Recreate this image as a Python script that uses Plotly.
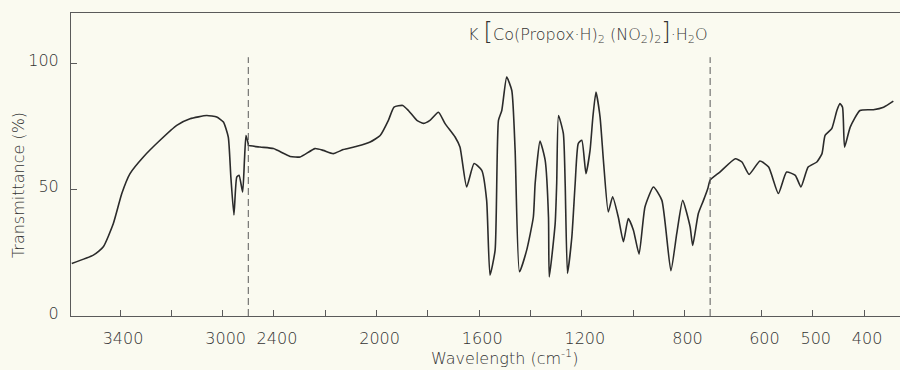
import numpy as np
import plotly.graph_objects as go

# IR spectrum of K[Co(Propox·H)2(NO2)2]·H2O, read as (wavenumber cm^-1, transmittance %)
WAVENUMBER = [
    3588, 3504, 3465, 3426, 3393, 3361, 3309, 3244, 3179, 3127, 3062, 3023,
    2997, 2978, 2968, 2956, 2945, 2936, 2922, 2915, 2909, 2900,
    2500, 2454, 2402, 2337, 2298, 2240, 2208, 2169, 2130, 2077, 2025, 1986,
    1954, 1932, 1898, 1876, 1843, 1818, 1792, 1759, 1733, 1694, 1675, 1649,
    1620, 1590, 1571, 1558, 1538, 1525, 1512, 1493, 1473, 1460, 1443, 1415,
    1389, 1382, 1363, 1343, 1330, 1327, 1304, 1298, 1291, 1272, 1265, 1256,
    1239, 1226, 1214, 1200, 1184, 1168, 1157, 1145, 1129, 1116, 1097, 1080,
    1058, 1038, 1019, 999, 977, 954, 921, 888, 853, 830, 807, 778, 768, 746,
    726, 709,
    700, 681, 651, 638, 624, 603, 586, 567, 551, 534, 523, 509, 492, 482,
    476, 463, 453, 447, 442, 438, 427, 408, 382, 362, 343,
]
TRANSMITTANCE = [
    20.8, 24.1, 27.4, 36.6, 48.5, 56.4, 63.0, 69.6, 75.5, 78.1, 79.4, 78.8,
    76.8, 70.9, 55.1, 40.0, 55.0, 55.7, 49.1, 61.7, 71.5, 68.0,
    67.6, 66.9, 66.3, 63.2, 63.0, 66.3, 65.6, 64.3, 65.9, 67.2, 68.9, 71.5,
    77.5, 82.7, 83.4, 81.4, 77.5, 76.3, 77.5, 80.7, 76.2, 70.9, 66.9, 51.1,
    60.4, 57.7, 45.8, 16.2, 26.1, 77.5, 81.4, 94.6, 89.3, 65.6, 17.5, 26.1,
    39.2, 52.5, 69.3, 61.7, 39.2, 15.5, 36.6, 52.5, 79.4, 72.2, 52.5, 16.9,
    31.3, 52.5, 68.3, 69.6, 56.4, 65.6, 78.8, 88.7, 78.8, 61.7, 41.2, 47.2,
    39.2, 29.4, 38.6, 34.0, 24.5, 43.2, 51.1, 45.8, 17.9, 32.7, 45.8, 35.3, 27.9, 40.6,
    45.8, 50.5,
    53.8, 57.0, 62.3, 61.0, 56.1, 61.4, 59.0, 48.5, 57.0, 55.7, 51.1, 59.0, 61.0, 64.3,
    71.5, 74.2, 81.4, 84.1, 82.7, 66.9, 74.8, 81.4, 81.7, 82.7, 85.1,
]

LABELED_TICKS = [3400, 3000, 2400, 2000, 1600, 1200, 800, 600, 500, 400]
UNLABELED_TICKS = [3200, 2200, 1800, 1400, 1000]
Y_TICKS = [0, 50, 100]

# The chart paper changes scale: 3600-2900 and 2500-700 share one scale,
# the region below 700 cm^-1 is expanded twofold.
HIGH_BREAK = (2900, 2500)
LOW_BREAK = 700
LOW_EXPANSION = 2.0


def to_axis(wn):
    wn = np.asarray(wn, dtype=float)
    return np.where(
        wn >= HIGH_BREAK[0],
        (HIGH_BREAK[0] - HIGH_BREAK[1]) - wn,
        np.where(wn >= LOW_BREAK, -wn, -LOW_BREAK + LOW_EXPANSION * (LOW_BREAK - wn)),
    )


PAPER = "#fafaf0"
INK = "#2b2b2b"
GRID_INK = "#5a5a5a"
TEXT_INK = "#333333"
FONT = "DejaVu Sans"
WEIGHT = 200

fig = go.Figure()
fig.add_trace(go.Scatter(
    x=to_axis(WAVENUMBER), y=TRANSMITTANCE, mode="lines",
    line=dict(color=INK, width=1.6, shape="spline", smoothing=0.5),
    hoverinfo="skip", showlegend=False,
))

# dashed markers at the two scale changes
for b in (HIGH_BREAK[1], LOW_BREAK):
    xb = float(to_axis([b])[0])
    fig.add_shape(type="line", xref="x", yref="y", x0=xb, x1=xb, y0=0, y1=102.5,
                  line=dict(color=GRID_INK, width=1, dash="7px,4px"))

fig.update_xaxes(
    range=[-3191, 40], tickmode="array",
    tickvals=to_axis(LABELED_TICKS).tolist(), ticktext=[str(v) for v in LABELED_TICKS],
    ticks="inside", ticklen=6, tickcolor=GRID_INK, tickwidth=1,
    minor=dict(tickmode="array", tickvals=to_axis(UNLABELED_TICKS).tolist(),
               ticks="inside", ticklen=6, tickcolor=GRID_INK, tickwidth=1, showgrid=False),
    showline=True, linecolor=GRID_INK, linewidth=1, mirror=True,
    showgrid=False, zeroline=False,
    tickfont=dict(family=FONT, size=16, color=TEXT_INK, weight=WEIGHT),
    ticklabelstandoff=8, ticklabelshift=3,
)
fig.update_yaxes(
    range=[0, 120], tickmode="array", tickvals=Y_TICKS,
    ticktext=[str(v) for v in Y_TICKS],
    ticks="inside", ticklen=6, tickcolor=GRID_INK, tickwidth=1,
    showline=True, linecolor=GRID_INK, linewidth=1,
    showgrid=False, zeroline=False,
    tickfont=dict(family=FONT, size=16, color=TEXT_INK, weight=WEIGHT),
    ticklabelstandoff=8, ticklabelshift=-3,
)

fig.add_annotation(
    text="Wavelength (cm<sup>-1</sup>)", xref="paper", yref="paper",
    x=0.5235, y=0, yshift=-41, xanchor="center", yanchor="middle", showarrow=False,
    font=dict(family=FONT, size=16, color=TEXT_INK, weight=WEIGHT),
)
fig.add_annotation(
    text="Transmittance (%)", xref="paper", yref="paper",
    x=0, xshift=-53, y=0.432, xanchor="center", yanchor="middle", textangle=-90,
    showarrow=False, font=dict(family=FONT, size=16, color=TEXT_INK, weight=WEIGHT),
)
fig.add_annotation(
    text="K <span style='font-size:24px'>[</span>Co(Propox·H)<sub>2</sub> "
         "(NO<sub>2</sub>)<sub>2</sub><span style='font-size:24px'>]</span>·H<sub>2</sub>O",
    xref="paper", yref="paper", x=0.477, y=1, yshift=-19,
    xanchor="left", yanchor="middle", showarrow=False,
    font=dict(family=FONT, size=16, color=TEXT_INK, weight=WEIGHT),
)

fig.update_layout(
    width=900, height=370,
    margin=dict(l=71, r=0, t=13, b=54),
    paper_bgcolor=PAPER, plot_bgcolor=PAPER,
)

fig.write_html("out.html")
